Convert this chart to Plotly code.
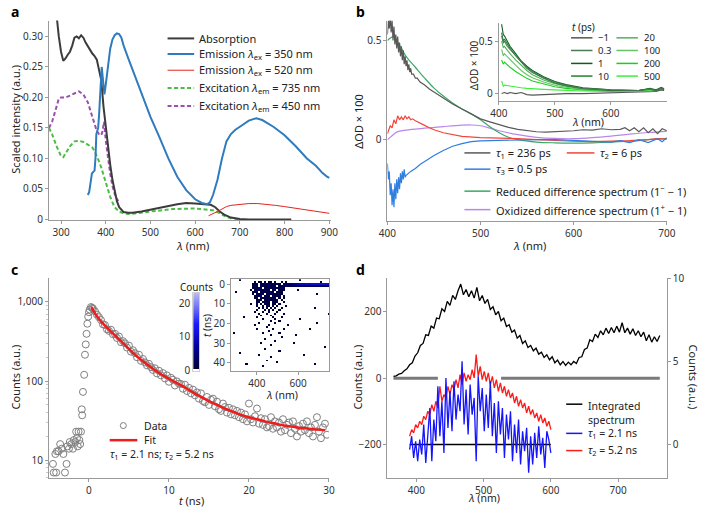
import plotly.graph_objects as go
import numpy as np

W, H = 708, 514
FONT = "Noto Sans"
def px(x): return x / W
def py(y): return 1 - y / H

# ---------------- Panel a ----------------
abs_x = [285, 290, 295, 300, 305, 310, 315, 320, 325, 330, 335, 340, 345, 350, 355, 360, 365, 370, 375, 380, 385, 390, 395, 400, 405, 410, 415, 420, 425, 430, 435, 440, 450, 460, 480, 500, 520, 540, 560, 580, 590, 600, 620, 635, 645, 655, 665, 680, 700, 720, 760, 815]
abs_y = [0.40, 0.335, 0.30, 0.275, 0.26, 0.264, 0.27, 0.275, 0.285, 0.298, 0.30, 0.297, 0.302, 0.298, 0.29, 0.283, 0.278, 0.272, 0.268, 0.262, 0.245, 0.228, 0.185, 0.15, 0.12, 0.09, 0.065, 0.045, 0.03, 0.02, 0.015, 0.012, 0.011, 0.011, 0.013, 0.016, 0.019, 0.023, 0.025, 0.027, 0.027, 0.026, 0.025, 0.024, 0.02, 0.013, 0.008, 0.003, 0.0008, 0.0, 0.0, 0.0]

em350_x = [360, 363, 366, 369, 372, 375, 377, 379, 381, 383, 385, 387, 389, 391, 393, 395, 397, 399, 402, 405, 410, 415, 420, 425, 430, 435, 440, 450, 460, 470, 480, 490, 500, 520, 540, 560, 580, 600, 615, 627, 633, 640, 650, 660, 670, 680, 690, 700, 720, 737, 750, 775, 800, 825, 850, 870, 885, 895, 900]
em350_y = [0.04, 0.045, 0.06, 0.075, 0.078, 0.08, 0.1, 0.14, 0.145, 0.15, 0.17, 0.2, 0.235, 0.25, 0.235, 0.21, 0.205, 0.215, 0.235, 0.255, 0.28, 0.295, 0.302, 0.305, 0.304, 0.298, 0.285, 0.265, 0.245, 0.225, 0.205, 0.185, 0.168, 0.135, 0.1, 0.07, 0.048, 0.033, 0.027, 0.025, 0.028, 0.04, 0.065, 0.1, 0.128, 0.14, 0.147, 0.152, 0.162, 0.166, 0.163, 0.152, 0.138, 0.12, 0.1, 0.088, 0.076, 0.07, 0.068]

em520_x = [630, 640, 650, 660, 670, 680, 700, 720, 740, 760, 780, 800, 820, 840, 860, 880, 900]
em520_y = [0.006, 0.009, 0.013, 0.017, 0.021, 0.023, 0.025, 0.026, 0.026, 0.025, 0.023, 0.021, 0.019, 0.016, 0.014, 0.012, 0.01]

ex735_x = [273, 280, 290, 300, 305, 310, 320, 330, 340, 350, 360, 370, 375, 380, 385, 390, 395, 400, 405, 410, 415, 420, 430, 440, 450, 470, 500, 550, 600, 620, 640, 650, 660, 670, 680, 690, 700]
ex735_y = [0.15, 0.14, 0.12, 0.104, 0.102, 0.108, 0.12, 0.128, 0.129, 0.127, 0.123, 0.118, 0.112, 0.104, 0.095, 0.085, 0.072, 0.06, 0.048, 0.037, 0.028, 0.02, 0.013, 0.01, 0.009, 0.01, 0.013, 0.017, 0.018, 0.016, 0.015, 0.012, 0.008, 0.004, 0.002, 0.001, 0.0]

ex450_x = [273, 280, 290, 295, 300, 310, 320, 330, 340, 350, 360, 365, 370, 375, 380, 385, 390, 393, 396, 400, 405, 410, 415, 420, 425, 428]
ex450_y = [0.15, 0.16, 0.185, 0.198, 0.2, 0.2, 0.203, 0.207, 0.21, 0.205, 0.192, 0.18, 0.168, 0.158, 0.145, 0.14, 0.138, 0.145, 0.16, 0.13, 0.1, 0.075, 0.055, 0.042, 0.034, 0.03]

# ---------------- Panel b ----------------
tau1_x = [400, 401, 402, 403, 404, 405, 406, 407, 408, 409, 410, 411, 412, 413, 414, 415, 416, 417, 418, 419, 420, 421, 422, 423, 424, 425, 426, 428, 430, 432, 435, 440, 445, 450, 455, 460, 465, 470, 480, 490, 500, 510, 520, 530, 540, 550, 560, 570, 580, 590, 600, 610, 620, 630, 640, 650, 655, 660, 665, 670, 675, 680, 685, 690, 695, 700]
tau1_y = [0.53, 0.6, 0.56, 0.62, 0.54, 0.6, 0.5, 0.57, 0.48, 0.53, 0.46, 0.52, 0.44, 0.49, 0.42, 0.47, 0.4, 0.45, 0.38, 0.42, 0.37, 0.4, 0.35, 0.38, 0.34, 0.36, 0.33, 0.33, 0.31, 0.31, 0.29, 0.275, 0.255, 0.24, 0.225, 0.21, 0.195, 0.18, 0.155, 0.13, 0.105, 0.09, 0.075, 0.062, 0.052, 0.045, 0.04, 0.038, 0.04, 0.042, 0.045, 0.05, 0.048, 0.055, 0.05, 0.052, 0.06, 0.045, 0.06, 0.04, 0.06, 0.035, 0.055, 0.03, 0.055, 0.045]

tau2_x = [400, 403, 405, 407, 409, 411, 413, 415, 417, 419, 421, 423, 425, 427, 430, 435, 440, 445, 450, 460, 470, 480, 500, 520, 540, 560, 580, 600, 620, 640, 660, 680, 690, 700]
tau2_y = [0.03, 0.07, 0.06, 0.1, 0.08, 0.12, 0.1, 0.115, 0.1, 0.12, 0.105, 0.115, 0.1, 0.105, 0.095, 0.085, 0.072, 0.06, 0.05, 0.035, 0.025, 0.017, 0.01, 0.008, 0.005, 0.0, -0.005, -0.008, -0.01, -0.008, -0.005, 0.0, 0.005, 0.003]

tau3_x = [400, 401, 402, 403, 404, 405, 406, 407, 408, 409, 410, 411, 412, 413, 414, 415, 416, 417, 418, 419, 420, 425, 430, 435, 440, 450, 460, 470, 480, 490, 500, 520, 540, 560, 580, 600, 620, 640, 650, 660, 670, 680, 690, 695, 700]
tau3_y = [-0.12, -0.2, -0.16, -0.28, -0.22, -0.33, -0.25, -0.34, -0.22, -0.3, -0.2, -0.27, -0.19, -0.25, -0.17, -0.22, -0.16, -0.2, -0.15, -0.19, -0.18, -0.16, -0.145, -0.125, -0.11, -0.08, -0.055, -0.033, -0.02, -0.01, -0.006, -0.003, 0.0, 0.0, 0.0, -0.005, -0.008, -0.012, -0.005, -0.015, 0.0, -0.015, 0.005, -0.01, 0.01]

red_x = [400, 404, 407, 410, 415, 420, 430, 440, 450, 460, 470, 480, 490, 500, 510, 520, 530, 540, 560, 580, 600, 620, 640, 660, 670, 680, 700]
red_y = [0.5, 0.515, 0.52, 0.5, 0.46, 0.42, 0.365, 0.31, 0.26, 0.22, 0.185, 0.155, 0.13, 0.1, 0.065, 0.035, 0.012, 0.0, -0.012, -0.016, -0.017, -0.016, -0.013, -0.008, -0.005, 0.0, 0.005]

ox_x = [400, 405, 410, 420, 440, 460, 480, 490, 500, 510, 520, 540, 560, 580, 600, 620, 640, 660, 680, 700]
ox_y = [0.0, 0.02, 0.038, 0.048, 0.058, 0.066, 0.073, 0.074, 0.07, 0.058, 0.045, 0.025, 0.012, 0.006, 0.005, 0.01, 0.018, 0.028, 0.036, 0.042]

ins_x = [405, 408, 410, 415, 420, 430, 440, 450, 460, 480, 500, 520, 550, 600, 650, 670, 680, 690, 695]
ins_times = ["\u22121", "0.3", "1", "10", "20", "100", "200", "500"]
ins_colors = ["#555555", "#4a7a55", "#0b5e1c", "#22822f", "#52b05a", "#66c466", "#19cf19", "#3cf03c"]
ins_m1 = [0.0, 0.005, 0.01, 0.0, 0.01, 0.0, 0.01, -0.01, -0.015, -0.01, -0.005, 0.0, 0.0, 0.01, 0.02, 0.025, 0.02, 0.035, 0.03]
ins_03 = [0.55, 0.48, 0.5, 0.45, 0.42, 0.36, 0.3, 0.25, 0.21, 0.15, 0.11, 0.08, 0.05, 0.035, 0.03, 0.045, 0.03, 0.055, 0.04]
ins_1 = [0.66, 0.56, 0.55, 0.5, 0.45, 0.38, 0.31, 0.26, 0.22, 0.16, 0.115, 0.085, 0.055, 0.035, 0.03, 0.05, 0.035, 0.06, 0.045]
ins_10 = [0.58, 0.5, 0.52, 0.47, 0.43, 0.36, 0.3, 0.24, 0.2, 0.145, 0.1, 0.075, 0.05, 0.03, 0.03, 0.045, 0.03, 0.05, 0.04]
ins_20 = [0.5, 0.44, 0.45, 0.41, 0.38, 0.32, 0.27, 0.22, 0.18, 0.13, 0.095, 0.07, 0.045, 0.03, 0.03, 0.04, 0.028, 0.05, 0.035]
ins_100 = [0.42, 0.36, 0.38, 0.35, 0.32, 0.27, 0.22, 0.18, 0.15, 0.11, 0.08, 0.06, 0.04, 0.03, 0.03, 0.04, 0.025, 0.045, 0.035]
ins_200 = [0.32, 0.28, 0.3, 0.27, 0.25, 0.21, 0.175, 0.145, 0.12, 0.09, 0.065, 0.05, 0.035, 0.025, 0.03, 0.04, 0.025, 0.045, 0.035]
ins_500 = [0.12, 0.07, 0.08, 0.075, 0.07, 0.06, 0.055, 0.05, 0.045, 0.04, 0.035, 0.03, 0.025, 0.02, 0.025, 0.035, 0.02, 0.04, 0.03]
ins_series = [ins_m1, ins_03, ins_1, ins_10, ins_20, ins_100, ins_200, ins_500]

# ---------------- Panel c ----------------
rise_t = [-4.5, -4.4, -4.2, -4.1, -4.0, -3.8, -3.6, -3.4, -3.2, -3.0, -2.8, -2.7, -2.5, -2.4, -2.2, -2.0, -1.9, -1.7, -1.6, -1.5, -1.4, -1.3, -1.2, -1.1, -1.0, -0.9, -0.85, -0.75, -0.6, -0.5, -0.4, -0.3, -0.2, -0.1, 0.0, 0.1, 0.25, 0.4]
rise_y = [9, 7, 12, 7, 13, 13, 16, 14, 12, 7, 9, 15, 14, 17, 16, 14, 18, 17, 23, 19, 15, 23, 18, 16, 23, 44, 37, 73, 120, 215, 290, 395, 530, 650, 740, 800, 860, 840]
decay_t = [0.5 + 0.25 * i for i in range(118)]
decay_y = [820, 760, 690, 640, 590, 520, 510, 450, 430, 445, 390, 395, 350, 365, 310, 320,
           300, 265, 280, 235, 245, 225, 200, 215, 180, 190, 172, 158, 165, 150, 138, 145,
           125, 135, 118, 126, 108, 118, 98, 110, 104, 88, 99, 93, 92, 80, 90, 75,
           82, 70, 78, 66, 72, 60, 70, 56, 54, 63, 50, 58, 60, 48, 55, 44,
           42, 52, 47, 40, 46, 38, 44, 37, 42, 35, 40, 33, 38, 31, 52, 33,
           30, 36, 45, 29, 34, 28, 33, 26, 27, 35, 25, 31, 26, 30, 23, 33,
           24, 28, 30, 22, 31, 25, 20, 27, 23, 29, 24, 31, 22, 26, 20, 28,
           35, 23, 19, 26, 29, 21]
fit_t = [0.3, 1, 2, 3, 4, 5, 6, 7, 8, 9, 10, 11, 12, 13, 14, 15, 16, 17, 18, 19, 20, 21, 22, 23, 24, 25, 26, 27, 28, 29, 29.5]
fit_y = [860, 660, 500, 400, 320, 255, 205, 170, 143, 122, 107, 94, 83, 72, 63, 56, 50, 45, 41, 37.5, 35, 33, 31, 29.5, 28, 27, 26, 25.3, 24.7, 24.2, 24]

# streak image: columns = wavelength (nm), rows = time (ns); characters are counts (base 36)
map_lam = [280 + 10 * i for i in range(48)]
map_t = list(range(-2, 45))
map_rows = [
    "000010000000000000000000000000000100000000000000",
    "000000000001011010110100101000000000000000010000",
    "000000000012303232323132023345678999aaabbbbbbbb9",
    "000000000021202312323201323222233333333333333332",
    "000000000013232021322312310000000000000000000000",
    "000000000102313232203102210000001000000000000000",
    "001000000021202321232031200000000000000000000000",
    "000000000010312302123212100000000000000001000000",
    "000000000002132023102321010000000000000000000000",
    "000000000001203121321201010000000000000000000000",
    "000000000000121012213120100000000000000000000000",
    "000000000000110121102120010000000000000000000000",
    "000000000100101012101102000000000000000000000000",
    "000000000000100101201010001000000000000000000000",
    "000000000000010101020100100000000000000010000000",
    "000000000000100010101001000000000000000000000000",
    "000000000001000100100010000000000000000000000000",
    "000000000000010001000100010000000000000000000001",
    "000000000000001000010000000000000000000000000000",
    "000000100000100000001000100000000000000000000000",
    "000000000000000100000100000000000100000000000000",
    "000000000000000000010001000000000000000000000000",
    "000000000000010000000100000000000000000001000000",
    "000000000001000000100000000100000000000000000000",
    "000000000000000001000000000000000000000000000000",
    "000000000000100000001000010000000000001000000000",
    "000000000000000000100000000000000000000000000000",
    "010000000000000100000001000000000000000000000000",
    "000000000000000000010000000000010000000000000000",
    "000000000000000000000000100000000000000000000000",
    "000000000000000010000000000000000000000000000000",
    "000000000000000000000100000000000000000000000000",
    "000000000000001000000000000000100000000000000000",
    "000000000000000000010000000000000000000000000000",
    "000000000000000000000000000000000000000000000100",
    "000000000000000010000000000000000000000000000000",
    "000000000000000000000001000000000000000000000000",
    "000010000000000000000000000000000000000000000000",
    "000000000000010000000000000000000001000000000000",
    "000000000000000000010000000000000000000000000000",
    "000000000000000000000000000000000000000000000000",
    "000000000000000001000000000000000000000000000000",
    "000000000000000000000010000000000000000000000000",
    "000000010000000000000000000000000000000010000000",
    "000000000000000100000000000000000000000000000000",
    "000000000000000000000000000000000000000000000000",
    "000000000000000000000000000000000000000000000000",
]
map_z = [[int(c, 36) for c in row.ljust(48, "0")[:48]] for row in map_rows]
cb_levels = list(np.linspace(0, 23.2, 117))

# ---------------- Panel d ----------------
integ_x = list(range(366, 763, 4))
integ_y = [5, 7, 12, 14, 22, 28, 40, 46, 66, 76, 98, 104, 130, 128, 156, 150, 180, 178, 208, 200,
           230, 218, 248, 236, 262, 282, 250, 266, 244, 262, 240, 272, 232, 248, 224, 236, 206, 214, 190, 200,
           172, 180, 155, 160, 138, 144, 120, 128, 104, 112, 92, 98, 82, 90, 72, 78, 62, 70, 55, 64,
           46, 54, 40, 50, 38, 48, 40, 50, 44, 62, 64, 86, 90, 115, 110, 132, 122, 142, 130, 150,
           134, 152, 136, 156, 138, 166, 136, 150, 132, 148, 128, 142, 124, 138, 112, 130, 108, 124, 110, 128]
comp_x = list(range(390, 601, 3))
comp1_y = [-0.3, 0.5, -0.8, 0.2, -1.0, 0.3, -0.6, 1.2, -1.1, 0.8, 2.2, -1.0, 1.5, 0.2, 3.5, 0.5, 2.6, -0.5, 4.0, 1.0,
           3.2, 0.8, 3.8, 1.5, 3.0, 2.0, 5.0, 1.2, 3.3, 0.6, 3.6, 1.8, 2.8, -1.0, 4.1, 2.0, 3.4, 0.8, 3.0, 1.0,
           3.8, 0.5, 2.5, -0.5, 2.6, 0.6, 2.2, -0.8, 1.8, 0.3, 2.0, -1.0, 1.2, -0.5, 1.5, -1.2, 0.8, -0.4, 1.0, -1.7,
           0.5, -1.2, 0.7, -0.8, 1.1, -0.6, 0.4, -1.4, 0.8, 0.3, -0.5]
comp2_y = [0.5, 0.9, 0.7, 1.2, 1.0, 1.4, 1.2, 1.7, 1.5, 2.0, 1.8, 2.4, 2.0, 2.6, 2.2, 3.5, 2.6, 3.0, 2.8, 3.5,
           3.0, 3.6, 3.3, 3.9, 3.4, 4.2, 3.6, 4.3, 3.8, 4.2, 3.9, 4.5, 4.0, 5.4, 4.1, 4.7, 3.9, 4.4, 3.8, 4.3,
           3.6, 4.1, 3.4, 3.9, 3.2, 3.7, 3.1, 3.5, 2.9, 3.3, 2.8, 3.1, 2.5, 2.9, 2.3, 2.7, 2.2, 2.5, 1.9, 2.3,
           1.8, 2.1, 1.6, 1.9, 1.4, 1.8, 1.3, 1.6, 1.1, 1.4, 0.9]
base0_segs = [[366, 432], [526, 762]]
base_comp = [390, 600]

fig = go.Figure()

def line(x, y, color, width, xa, ya, dash=None, shape="linear"):
    fig.add_trace(go.Scatter(x=x, y=y, mode="lines", xaxis=xa, yaxis=ya, showlegend=False,
                             line=dict(color=color, width=width, dash=dash, shape=shape), hoverinfo="skip"))

# a
DASH = "4px,2.5px"
line(ex735_x, ex735_y, "#4cbc44", 2, "x", "y", DASH)
line(ex450_x, ex450_y, "#9c4fb0", 2, "x", "y", DASH)
line(abs_x, abs_y, "#3c3c3c", 2, "x", "y")
line(em520_x, em520_y, "#e3241e", 1, "x", "y")
line(em350_x, em350_y, "#2f7bbf", 2, "x", "y")

# b main
C_T1, C_T2, C_T3, C_RED, C_OX = "#595959", "#f0463c", "#2f7fe0", "#3aa966", "#b987ea"
line(ox_x, ox_y, C_OX, 1.2, "x2", "y2", shape="spline")
line(red_x, red_y, C_RED, 1.2, "x2", "y2", shape="spline")
line(tau2_x, tau2_y, C_T2, 1.2, "x2", "y2")
line(tau3_x, tau3_y, C_T3, 1.2, "x2", "y2")
line(tau1_x, tau1_y, C_T1, 1.2, "x2", "y2")
# b inset
for ys, c in zip(ins_series[::-1], ins_colors[::-1]):
    line(ins_x, ys, c, 1.1, "x3", "y3")

# c
fig.add_trace(go.Scatter(x=rise_t + decay_t, y=rise_y + decay_y, mode="markers", xaxis="x4", yaxis="y4",
                         showlegend=False, hoverinfo="skip",
                         marker=dict(symbol="circle-open", size=7, color="#7f7f7f", line=dict(width=1))))
line(fit_t, fit_y, "#ee1c1c", 2.5, "x4", "y4", shape="spline")
CSCALE = [[0, "#ffffff"], [0.02, "#ffffff"], [0.021, "#000030"], [0.3, "#00009a"], [0.6, "#1a1aff"], [1, "#bcbcf2"]]
fig.add_trace(go.Heatmap(x=map_lam, y=map_t, z=map_z, zmin=0, zmax=23.2, colorscale=CSCALE, showscale=False,
                         xaxis="x5", yaxis="y5", hoverinfo="skip"))
fig.add_trace(go.Heatmap(x=[0], y=cb_levels, z=[[v] for v in cb_levels], zmin=0, zmax=23.2, colorscale=CSCALE,
                         showscale=False, xaxis="x6", yaxis="y6", hoverinfo="skip"))

# d
for seg in base0_segs:
    line(seg, [0, 0], "#7a7a7a", 3, "x7", "y7")
line(integ_x, integ_y, "#000000", 1.3, "x7", "y7")
line(base_comp, [0, 0], "#000000", 1.5, "x7", "y8")
line(comp_x, comp2_y, "#ff1a1a", 1.3, "x7", "y8")
line(comp_x, comp1_y, "#1414ff", 1.3, "x7", "y8")

AX = dict(showline=True, linecolor="#9a9a9a", linewidth=1, ticks="outside", ticklen=3, tickcolor="#9a9a9a",
          tickfont=dict(size=10, color="#333333", family=FONT), showgrid=False, zeroline=False, fixedrange=True)

def ax(**kw):
    d = dict(AX)
    d.update(kw)
    return d

layout = dict(
    width=W, height=H, margin=dict(l=0, r=0, t=0, b=0), autosize=False,
    paper_bgcolor="white", plot_bgcolor="white", font=dict(family=FONT, color="#222222"),
    xaxis=ax(domain=[px(41), px(330)], range=[273, 903], anchor="y", tickvals=[300, 400, 500, 600, 700, 800, 900]),
    yaxis=ax(domain=[py(219.3), py(14)], range=[-0.0015, 0.326], anchor="x",
             tickvals=[0, 0.05, 0.10, 0.15, 0.20, 0.25, 0.30], ticktext=["0", "0.05", "0.10", "0.15", "0.20", "0.25", "0.30"]),
    xaxis2=ax(domain=[px(388.3), px(675)], range=[400, 700], anchor="y2", tickvals=[400, 500, 600, 700]),
    yaxis2=ax(domain=[py(220), py(14)], range=[-0.41, 0.60], anchor="x2", tickvals=[0, 0.5], ticktext=["0", "0.5"]),
    xaxis3=ax(domain=[px(502.6), px(675)], range=[400, 700], anchor="y3", tickvals=[400, 500, 600]),
    yaxis3=ax(domain=[py(97), py(16)], range=[-0.074, 0.676], anchor="x3", tickvals=[0, 0.5], ticktext=["0", "0.5"]),
    xaxis4=ax(domain=[px(41), px(328.3)], range=[-5, 30], anchor="y4", tickvals=[0, 10, 20, 30]),
    yaxis4=ax(domain=[py(484.7), py(278.7)], range=[0.77, 3.30], anchor="x4", type="log",
              tickvals=[10, 100, 1000], ticktext=["10", "100", "1,000"],
              minor=dict(ticks="outside", ticklen=2, tickcolor="#c8c8c8",
                         tickvals=[6, 7, 8, 9, 20, 30, 40, 50, 60, 70, 80, 90, 200, 300, 400, 500, 600, 700, 800, 900])),
    xaxis5=ax(domain=[px(227.7), px(328.3)], range=[274.5, 749], anchor="y5", tickvals=[400, 600], mirror=True),
    yaxis5=ax(domain=[py(374.3), py(279.7)], range=[44.2, -2.6], anchor="x5", tickvals=[0, 10, 20, 30, 40], mirror=True),
    xaxis6=ax(domain=[px(189), px(195)], range=[-0.5, 0.5], anchor="y6", showticklabels=False, ticks="",
              mirror=True, linecolor="#cfcfcf"),
    yaxis6=ax(domain=[py(373.7), py(293.7)], range=[0, 23.2], anchor="x6", tickvals=[0, 10, 20], ticks="",
              mirror=True, linecolor="#cfcfcf"),
    xaxis7=ax(domain=[px(388.3), px(675)], range=[357, 772.5], anchor="y7", tickvals=[400, 500, 600, 700]),
    yaxis7=ax(domain=[py(484.7), py(278.7)], range=[-301, 300], anchor="x7", tickvals=[-200, 0, 200],
              ticktext=["\u2212200", "0", "200"]),
    yaxis8=ax(range=[-2.04, 10], anchor="x7", overlaying="y7", side="right", tickvals=[0, 5, 10]),
)

ann = []
shapes = []

def text(x, y, s, size=11, xanchor="left", angle=0, bold=False, color="#222222", yanchor="middle"):
    if bold:
        s = "<b>" + s + "</b>"
    ann.append(dict(x=px(x), y=py(y), xref="paper", yref="paper", text=s, showarrow=False,
                    xanchor=xanchor, yanchor=yanchor, textangle=angle, align="left",
                    font=dict(size=size, color=color, family=FONT)))

def lg(x0, x1, y, color, width=1.5, dash=None):
    shapes.append(dict(type="line", xref="paper", yref="paper", x0=px(x0), x1=px(x1), y0=py(y), y1=py(y),
                       line=dict(color=color, width=width, dash=dash)))

# panel letters
text(0, 5, "a", 14, bold=True, color="#000")
text(354, 5, "b", 14, bold=True, color="#000")
text(0, 270, "c", 14, bold=True, color="#000")
text(354, 270, "d", 14, bold=True, color="#000")

# a labels & legend
text(7, 115, "Scaled intensity (a.u.)", 11, "center", -90)
text(188, 245, "<i>λ</i> (nm)", 11, "center")
a_leg = [("Absorption", "#3c3c3c", 2, None, 32.3),
         ("Emission <i>λ</i><sub>ex</sub> = 350 nm", "#2f7bbf", 2, None, 48.3),
         ("Emission <i>λ</i><sub>ex</sub> = 520 nm", "#e3241e", 1, None, 65),
         ("Excitation <i>λ</i><sub>em</sub> = 735 nm", "#4cbc44", 2, DASH, 83.3),
         ("Excitation <i>λ</i><sub>em</sub> = 450 nm", "#9c4fb0", 2, DASH, 101.7)]
for s, c, w, d, y in a_leg:
    lg(162.7, 190, y, c, w, d)
    text(193.3, y, s, 11)

# b labels & legend
text(359, 117, "ΔOD × 100", 11, "center", -90)
text(534, 245, "<i>λ</i> (nm)", 11, "center")
text(477, 60, "ΔOD × 100", 10, "center", -90)
text(594, 118.5, "<i>λ</i> (nm)", 10.5, "center")
lg(467.3, 494, 150, C_T1)
text(498, 150, "<i>τ</i><sub>1</sub> = 236 ps", 11)
lg(572.3, 600.7, 150, C_T2)
text(604.7, 150, "<i>τ</i><sub>2</sub> = 6 ps", 11)
lg(467.3, 494, 166.7, C_T3)
text(498, 166.7, "<i>τ</i><sub>3</sub> = 0.5 ps", 11)
lg(467.3, 494, 189.3, C_RED)
text(498, 189.3, "Reduced difference spectrum (1<sup>−</sup> − 1)", 11)
lg(467.3, 494, 208.3, C_OX)
text(498, 208.3, "Oxidized difference spectrum (1<sup>+</sup> − 1)", 11)
# inset legend
text(589, 21, "<i>t</i> (ps)", 10, "center")
for i, (lab, c) in enumerate(zip(ins_times, ins_colors)):
    col, row = divmod(i, 4)
    y = [31.7, 44.7, 58, 71][row]
    x0 = 576.7 if col == 0 else 623.3
    lg(x0, x0 + 22, y, c, 1.5)
    text(x0 + 26, y, lab, 9.5)

# c labels & legend
text(7, 380, "Counts (a.u.)", 11, "center", -90)
text(187, 507, "<i>t</i> (ns)", 11, "center")
text(203, 327, "<i>t</i> (ns)", 10, "center", -90)
text(280, 399, "<i>λ</i> (nm)", 10.5, "center")
text(192, 288, "Counts", 10, "center")
shapes.append(dict(type="circle", xref="paper", yref="paper", x0=px(114.2), x1=px(120.4), y0=py(427.2), y1=py(433.4),
                   line=dict(color="#7f7f7f", width=1)))
text(136.7, 430.3, "Data", 10.5)
lg(103.3, 131.7, 445.3, "#ee1c1c", 2.5)
text(136.7, 445, "Fit", 10.5)
text(101.7, 460, "<i>τ</i><sub>1</sub> = 2.1 ns; <i>τ</i><sub>2</sub> = 5.2 ns", 10.5)

# d labels & legend
text(358, 380, "Counts (a.u.)", 11, "center", -90)
text(702, 380, "Counts (a.u.)", 11, "center", 90)
text(487, 514, "<i>λ</i> (nm)", 10.5, "center", yanchor="bottom")
lg(571.7, 588.3, 408.3, "#000000", 1.5)
text(592.3, 400.5, "Integrated<br>spectrum", 10.5, yanchor="top")
lg(571.7, 588.3, 438.3, "#1414ff", 1.5)
text(592.3, 438.3, "<i>τ</i><sub>1</sub> = 2.1 ns", 10.5)
lg(571.7, 588.3, 456, "#ff1a1a", 1.5)
text(592.3, 456, "<i>τ</i><sub>2</sub> = 5.2 ns", 10.5)

layout["annotations"] = ann
layout["shapes"] = shapes
fig.update_layout(**layout)
fig.write_html("out.html", config={"displayModeBar": False, "staticPlot": True},
               post_script="document.body.style.margin='0';document.body.style.padding='0';")
